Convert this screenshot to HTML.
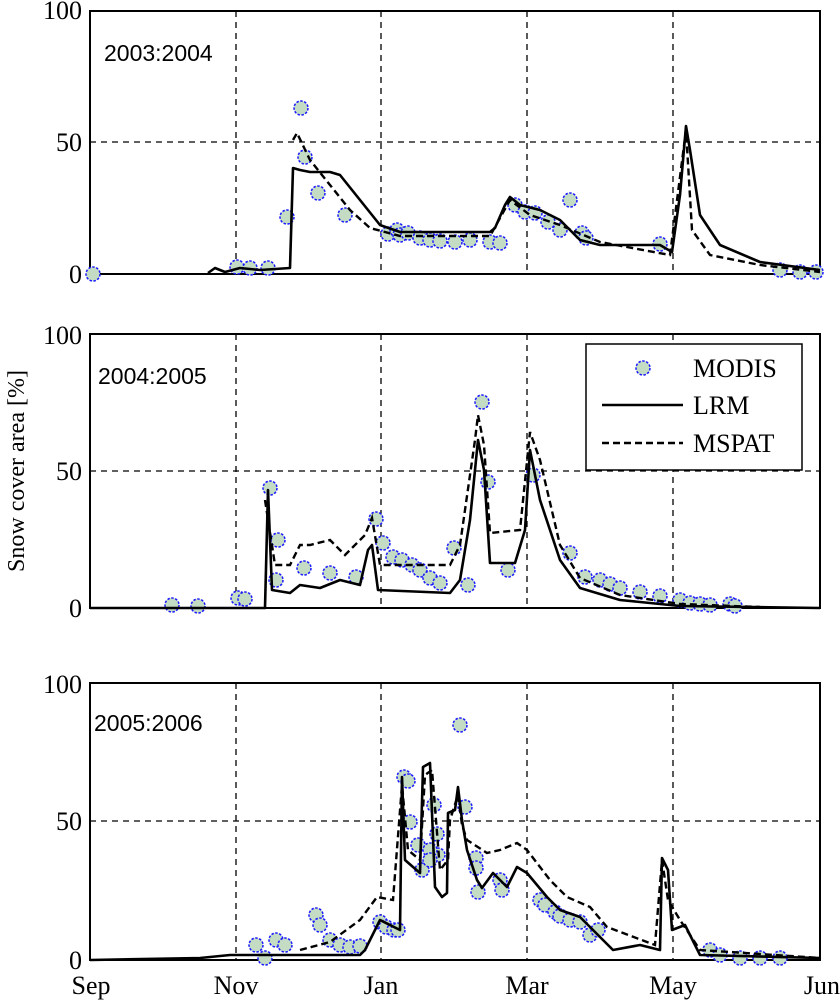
<!DOCTYPE html>
<html><head><meta charset="utf-8"><style>body{margin:0;background:#fff}svg{display:block}</style></head><body>
<svg width="840" height="1000" viewBox="0 0 840 1000" xmlns="http://www.w3.org/2000/svg" font-family="Liberation Serif, serif">
<g stroke="#000" stroke-width="1.3" stroke-dasharray="6,5" fill="none">
<path d="M236 11V274M381 11V274M527 11V274M673 11V274M90 142H820"/>
<path d="M236 334V608M381 334V608M527 334V608M673 334V608M90 471H820"/>
<path d="M236 683V960M381 683V960M527 683V960M673 683V960M90 821H820"/>
</g>
<g stroke="#000" stroke-width="2" fill="none">
<rect x="90" y="11" width="730" height="263"/>
<rect x="90" y="334" width="730" height="274"/>
<rect x="90" y="683" width="730" height="277"/>
</g>
<g font-size="26" text-anchor="end">
<text x="82" y="19">100</text><text x="82" y="151">50</text><text x="82" y="283">0</text>
<text x="82" y="344">100</text><text x="82" y="480">50</text><text x="82" y="617">0</text>
<text x="82" y="693">100</text><text x="82" y="830">50</text><text x="82" y="969">0</text>
</g>
<g font-size="26" text-anchor="middle">
<text x="91" y="994">Sep</text><text x="236" y="994">Nov</text><text x="381" y="994">Jan</text><text x="527" y="994">Mar</text><text x="673" y="994">May</text><text x="840" y="994" text-anchor="end">Jun</text>
</g>
<text transform="translate(24,471) rotate(-90)" font-size="24" text-anchor="middle">Snow cover area [%]</text>
<g font-family="Liberation Sans, sans-serif" font-size="23">
<text x="104" y="61">2003:2004</text>
<text x="98" y="384">2004:2005</text>
<text x="94" y="731">2005:2006</text>
</g>
<g fill="#c4dcc4" stroke="#1a1aff" stroke-width="1.5" stroke-dasharray="2.5,1.5">
<circle cx="93" cy="274" r="7"/><circle cx="237" cy="267" r="7"/><circle cx="250" cy="268" r="7"/><circle cx="268" cy="268" r="7"/><circle cx="287" cy="217" r="7"/><circle cx="301" cy="108" r="7"/><circle cx="305" cy="157" r="7"/><circle cx="318" cy="193" r="7"/><circle cx="345" cy="215" r="7"/><circle cx="388" cy="234" r="7"/><circle cx="397" cy="230" r="7"/><circle cx="400" cy="235" r="7"/><circle cx="408" cy="233" r="7"/><circle cx="420" cy="238" r="7"/><circle cx="430" cy="240" r="7"/><circle cx="440" cy="241" r="7"/><circle cx="455" cy="242" r="7"/><circle cx="470" cy="240" r="7"/><circle cx="490" cy="242" r="7"/><circle cx="500" cy="243" r="7"/><circle cx="515" cy="205" r="7"/><circle cx="525" cy="212" r="7"/><circle cx="535" cy="213" r="7"/><circle cx="548" cy="222" r="7"/><circle cx="560" cy="230" r="7"/><circle cx="570" cy="200" r="7"/><circle cx="582" cy="233" r="7"/><circle cx="586" cy="238" r="7"/><circle cx="660" cy="244" r="7"/><circle cx="780" cy="270" r="7"/><circle cx="800" cy="272" r="7"/><circle cx="816" cy="272" r="7"/>
<circle cx="172" cy="605" r="7"/><circle cx="198" cy="606" r="7"/><circle cx="238" cy="598" r="7"/><circle cx="245" cy="599" r="7"/><circle cx="270" cy="488" r="7"/><circle cx="278" cy="540" r="7"/><circle cx="276" cy="580" r="7"/><circle cx="304" cy="568" r="7"/><circle cx="330" cy="573" r="7"/><circle cx="356" cy="577" r="7"/><circle cx="376" cy="519" r="7"/><circle cx="383" cy="543" r="7"/><circle cx="393" cy="557" r="7"/><circle cx="402" cy="560" r="7"/><circle cx="412" cy="565" r="7"/><circle cx="420" cy="570" r="7"/><circle cx="430" cy="578" r="7"/><circle cx="440" cy="583" r="7"/><circle cx="454" cy="548" r="7"/><circle cx="468" cy="585" r="7"/><circle cx="482" cy="402" r="7"/><circle cx="488" cy="482" r="7"/><circle cx="508" cy="570" r="7"/><circle cx="533" cy="475" r="7"/><circle cx="570" cy="553" r="7"/><circle cx="585" cy="577" r="7"/><circle cx="600" cy="580" r="7"/><circle cx="610" cy="584" r="7"/><circle cx="620" cy="588" r="7"/><circle cx="640" cy="592" r="7"/><circle cx="660" cy="596" r="7"/><circle cx="680" cy="600" r="7"/><circle cx="690" cy="603" r="7"/><circle cx="700" cy="604" r="7"/><circle cx="710" cy="605" r="7"/><circle cx="730" cy="604" r="7"/><circle cx="735" cy="606" r="7"/>
<circle cx="256" cy="945" r="7"/><circle cx="265" cy="958" r="7"/><circle cx="276" cy="940" r="7"/><circle cx="285" cy="945" r="7"/><circle cx="316" cy="915" r="7"/><circle cx="320" cy="925" r="7"/><circle cx="330" cy="940" r="7"/><circle cx="340" cy="945" r="7"/><circle cx="350" cy="947" r="7"/><circle cx="360" cy="946" r="7"/><circle cx="380" cy="922" r="7"/><circle cx="386" cy="927" r="7"/><circle cx="394" cy="930" r="7"/><circle cx="398" cy="930" r="7"/><circle cx="404" cy="777" r="7"/><circle cx="408" cy="781" r="7"/><circle cx="410" cy="822" r="7"/><circle cx="418" cy="845" r="7"/><circle cx="422" cy="870" r="7"/><circle cx="434" cy="805" r="7"/><circle cx="437" cy="834" r="7"/><circle cx="438" cy="855" r="7"/><circle cx="430" cy="850" r="7"/><circle cx="430" cy="860" r="7"/><circle cx="460" cy="725" r="7"/><circle cx="465" cy="807" r="7"/><circle cx="476" cy="858" r="7"/><circle cx="476" cy="868" r="7"/><circle cx="478" cy="892" r="7"/><circle cx="500" cy="880" r="7"/><circle cx="502" cy="890" r="7"/><circle cx="540" cy="900" r="7"/><circle cx="545" cy="905" r="7"/><circle cx="555" cy="912" r="7"/><circle cx="560" cy="916" r="7"/><circle cx="570" cy="920" r="7"/><circle cx="580" cy="922" r="7"/><circle cx="590" cy="935" r="7"/><circle cx="598" cy="930" r="7"/><circle cx="710" cy="950" r="7"/><circle cx="720" cy="955" r="7"/><circle cx="740" cy="958" r="7"/><circle cx="760" cy="958" r="7"/><circle cx="780" cy="958" r="7"/>
</g>
<g stroke="#000" stroke-width="2.6" fill="none" stroke-linejoin="round">
<polyline points="208,273 215,268 225,272 240,268 260,270 290,268 293,168 300,170 310,172 330,172 340,175 360,200 380,225 400,232 490,232 495,228 505,205 510,197 520,205 540,210 560,220 570,230 580,240 600,245 660,245 672,252 680,195 686,126 690,150 700,215 720,245 760,262 820,270"/>
<polyline points="90,608 265,608 268,490 272,590 290,593 300,585 320,588 340,580 360,585 368,550 372,545 378,590 450,593 460,580 470,520 478,440 484,470 490,563 515,563 525,530 530,450 540,500 560,560 580,588 620,600 680,606 820,608"/>
<polyline points="90,960 200,958 230,955 300,955 360,955 365,950 380,920 400,930 402,777 405,860 413,867 420,873 423,767 430,763 435,887 442,897 447,893 448,813 455,810 458,787 462,820 467,850 477,880 482,888 493,873 507,887 517,867 527,873 547,897 560,910 580,917 593,930 613,950 640,945 660,950 662,858 668,870 672,930 685,925 700,955 820,958"/>
</g>
<g stroke="#000" stroke-width="2.4" fill="none" stroke-dasharray="7,4">
<polyline points="293,140 297,133 310,160 330,185 350,210 370,228 400,236 490,236 510,200 530,215 560,225 600,242 670,255 686,130 692,230 710,255 760,265 820,272"/>
<polyline points="265,500 275,565 290,565 300,545 310,545 330,540 345,555 365,535 372,518 380,565 450,565 460,545 475,440 478,415 484,445 490,533 520,530 530,432 540,460 560,545 580,578 620,595 680,604 760,607"/>
<polyline points="300,950 330,942 360,920 377,897 393,900 402,785 408,850 420,860 425,775 432,770 440,870 448,860 450,820 458,795 462,825 467,840 487,853 500,850 517,843 527,850 540,867 550,880 567,897 590,907 607,927 655,945 662,860 668,900 680,920 700,950 820,958"/>
</g>
<rect x="586" y="344" width="216" height="126" fill="#fff" stroke="#000" stroke-width="1.5"/>
<circle cx="643" cy="368" r="7" fill="#c4dcc4" stroke="#1a1aff" stroke-width="1.5" stroke-dasharray="2.5,1.5"/>
<line x1="602" y1="405" x2="683" y2="405" stroke="#000" stroke-width="2.6"/>
<line x1="602" y1="443" x2="683" y2="443" stroke="#000" stroke-width="2.4" stroke-dasharray="7,4"/>
<g font-size="26"><text x="693" y="377">MODIS</text><text x="693" y="414">LRM</text><text x="693" y="452">MSPAT</text></g>
</svg>
</body></html>
